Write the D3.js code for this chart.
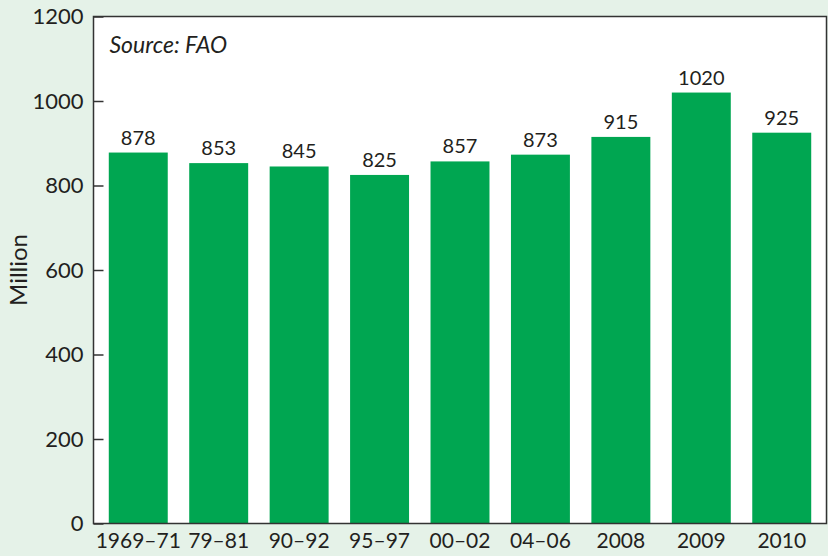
<!DOCTYPE html>
<html>
<head>
<meta charset="utf-8">
<script src="https://cdn.jsdelivr.net/npm/d3@7"></script>
<style>
  html, body { margin:0; padding:0; background:#e5f2e8; }
  svg { display:block; font-family: "Lato", "Noto Sans", sans-serif; }
</style>
</head>
<body>
<div id="chart-area"></div>
<script>
// Data
var periods = ["1969\u201371", "79\u201381", "90\u201392", "95\u201397", "00\u201302", "04\u201306", "2008", "2009", "2010"];
var hungry = [878, 853, 845, 825, 857, 873, 915, 1020, 925];
var yTicks = [0, 200, 400, 600, 800, 1000, 1200];

var W = 828, H = 556;
var margin = { left:93.5, right:1.5, top:16.5, bottom:32.5 };
var width = W - margin.left - margin.right,
    height = H - margin.top - margin.bottom;

var svg = d3.select("#chart-area")
    .append("svg")
        .attr("width", W)
        .attr("height", H);

var g = svg.append("g")
    .attr("transform", "translate(" + margin.left + ", " + margin.top + ")");

// plot background
g.append("rect")
    .attr("width", width)
    .attr("height", height)
    .attr("fill", "#ffffff");

// X Scale
var x = d3.scaleBand()
    .domain(periods)
    .range([0, width])
    .paddingInner(0.267)
    .paddingOuter(0.19);

// Y Scale
var y = d3.scaleLinear()
    .domain([0, 1200])
    .range([height, 0]);

// Bars
g.selectAll("rect.bar")
    .data(hungry)
    .enter().append("rect")
        .attr("class", "bar")
        .attr("x", function(d, i){ return x(periods[i]); })
        .attr("y", function(d){ return y(d); })
        .attr("width", x.bandwidth())
        .attr("height", function(d){ return height - y(d); })
        .attr("fill", "#00a651");

// Value labels
g.selectAll("text.val")
    .data(hungry)
    .enter().append("text")
        .attr("class", "val")
        .attr("x", function(d, i){ return x(periods[i]) + x.bandwidth() / 2; })
        .attr("y", function(d){ return y(d) - 8; })
        .attr("text-anchor", "middle")
        .attr("font-size", "20px")
        .attr("fill", "#231f20")
        .text(function(d){ return d; });

// Y Axis (ticks pointing inward)
var yAxisCall = d3.axisRight(y)
    .tickValues(yTicks)
    .tickSize(10)
    .tickFormat("");
var yAxis = g.append("g").call(yAxisCall);
yAxis.select(".domain").remove();
yAxis.selectAll("line").attr("stroke", "#333").attr("stroke-width", 1.5);

// Y tick labels
g.selectAll("text.ytick")
    .data(yTicks)
    .enter().append("text")
        .attr("class", "ytick")
        .attr("x", -10)
        .attr("y", function(d){ return y(d); })
        .attr("dy", "0.35em")
        .attr("text-anchor", "end")
        .attr("font-size", "22px")
        .attr("fill", "#231f20")
        .text(function(d){ return d; });

// X Axis labels
var xAxisCall = d3.axisBottom(x).tickSize(0).tickPadding(10);
var xAxis = g.append("g")
    .attr("transform", "translate(0," + height + ")")
    .call(xAxisCall);
xAxis.select(".domain").remove();
xAxis.selectAll("text")
    .attr("font-size", "21px")
    .attr("font-family", "Lato, 'Noto Sans', sans-serif")
    .attr("fill", "#231f20");

// Frame
g.append("rect")
    .attr("width", width)
    .attr("height", height)
    .attr("fill", "none")
    .attr("stroke", "#333")
    .attr("stroke-width", 1.5);

// Source note
g.append("text")
    .attr("x", 16)
    .attr("y", 36)
    .attr("font-size", "23px")
    .attr("font-style", "italic")
    .attr("fill", "#231f20")
    .text("Source: FAO");

// Y Label
svg.append("text")
    .attr("transform", "translate(27," + (margin.top + height / 2) + ") rotate(-90)")
    .attr("text-anchor", "middle")
    .attr("font-size", "24px")
    .attr("fill", "#231f20")
    .text("Million");
</script>
</body>
</html>
